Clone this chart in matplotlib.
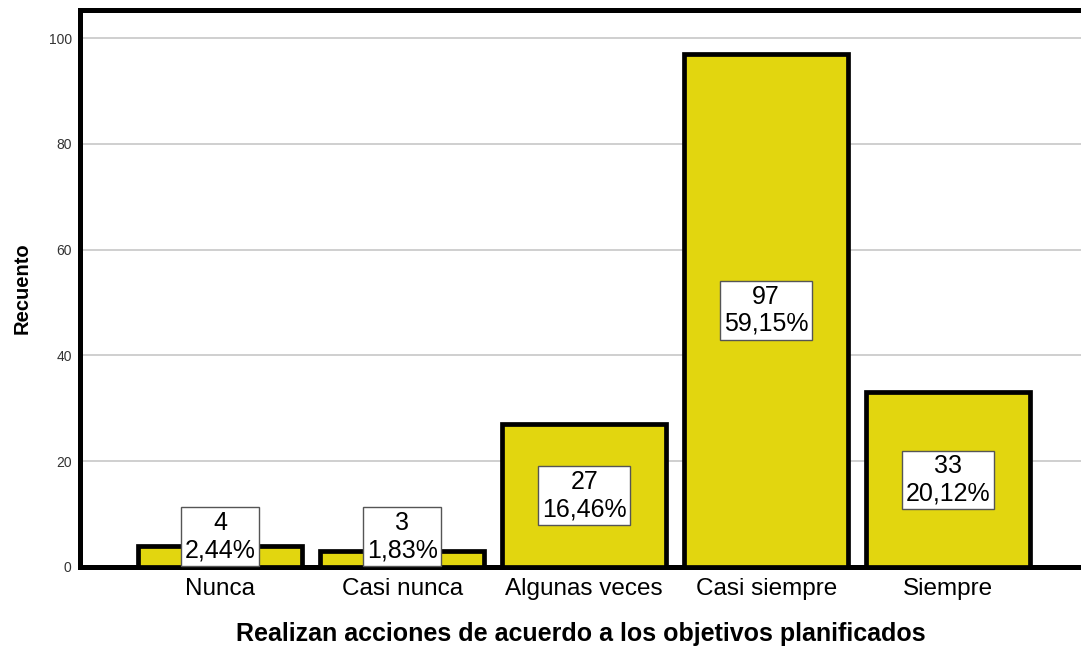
import matplotlib.pyplot as plt

categories = ['Nunca', 'Casi nunca', 'Algunas veces', 'Casi siempre', 'Siempre']
counts = [4, 3, 27, 97, 33]
percents = ['2,44%', '1,83%', '16,46%', '59,15%', '20,12%']
yticks = [0, 20, 40, 60, 80, 100]

plt.rcParams['font.family'] = ['Liberation Sans', 'DejaVu Sans']

fig = plt.figure(figsize=(10.81, 6.55), dpi=100)
ax = fig.add_axes([80 / 1081, 88 / 655, 1 - 80 / 1081, 557 / 655])

x = range(len(categories))
ax.bar(x, counts, width=0.9, color='#e2d60f', edgecolor='black', linewidth=3.4, zorder=3)

# labels sit in the middle of the bar, but never below the baseline
min_y = 5.75
for i, (c, p) in enumerate(zip(counts, percents)):
    ax.text(i, max(c / 2, min_y), f'{c}\n{p}', ha='center', va='center',
            fontsize=18, linespacing=1.15, zorder=4,
            bbox=dict(boxstyle='square,pad=0.15', facecolor='white',
                      edgecolor='#555555', linewidth=1))

ax.set_xlim(-0.77, 4.73)
ax.set_ylim(0, 105.3)
ax.set_yticks(yticks)
ax.set_xticks(list(x))
ax.set_xticklabels(categories, fontsize=17.5)
ax.tick_params(axis='y', labelsize=10, labelcolor='#333333', length=0, pad=6)
ax.tick_params(axis='x', length=0, pad=8)
ax.yaxis.grid(True, color='#cccccc', linewidth=1.3, zorder=0)
ax.set_axisbelow(True)

for side in ['top', 'left', 'bottom']:
    ax.spines[side].set_linewidth(3.6)
ax.spines['right'].set_visible(False)

ax.set_ylabel('Recuento', fontsize=14.5, fontweight='bold', labelpad=12)
ax.set_xlabel('Realizan acciones de acuerdo a los objetivos planificados',
              fontsize=18, fontweight='bold', labelpad=16)

fig.savefig('out.png', dpi=100)
